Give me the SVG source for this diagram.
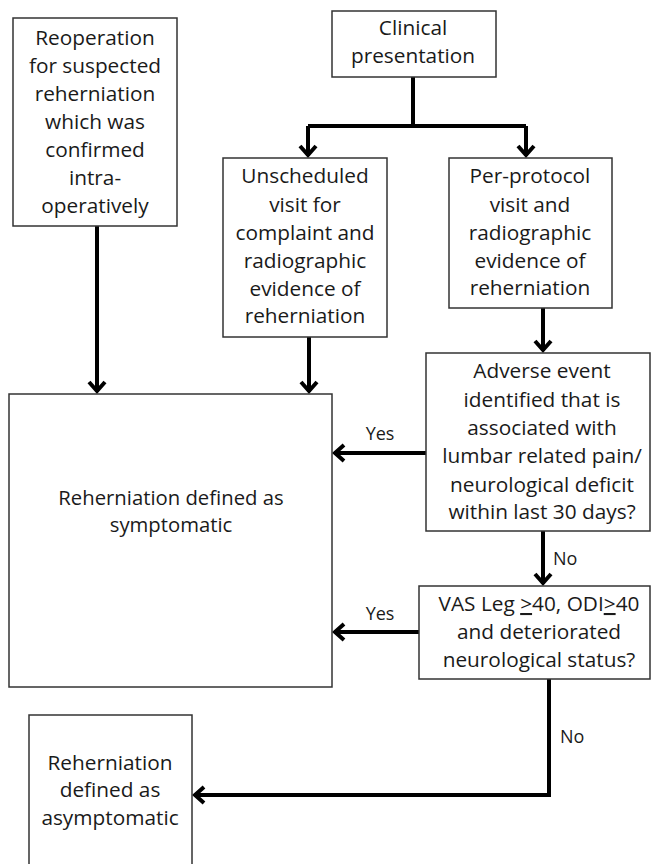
<svg xmlns="http://www.w3.org/2000/svg" width="651" height="864" viewBox="0 0 651 864">
<style>
.box{fill:#fff;stroke:#333;stroke-width:1.5}
.t{font-family:"Open Sans","Noto Sans","Liberation Sans",sans-serif;font-size:20.8px;fill:#1a1a1a;text-anchor:middle}
.lbl{font-family:"Open Sans","Noto Sans","Liberation Sans",sans-serif;font-size:18px;fill:#1a1a1a}
.c{fill:none;stroke:#000;stroke-width:4}
</style>
<defs>
<marker id="arr" markerUnits="userSpaceOnUse" viewBox="-14 -12 16 24" refX="0" refY="0" markerWidth="16" markerHeight="24" orient="auto" overflow="visible">
<path d="M-10,-8 L-1,0 L-10,8" fill="none" stroke="#000" stroke-width="4" stroke-linejoin="miter"/>
</marker>
</defs>
<rect width="651" height="864" fill="#fff"/>
<g id="connectors">
<path class="c" d="M413,77 V126"/>
<path class="c" d="M308,126 H526"/>
<path class="c" d="M308,126 V156" marker-end="url(#arr)"/>
<path class="c" d="M526,126 V156" marker-end="url(#arr)"/>
<path class="c" d="M97,226 V392" marker-end="url(#arr)"/>
<path class="c" d="M309,337 V392" marker-end="url(#arr)"/>
<path class="c" d="M543,308 V351" marker-end="url(#arr)"/>
<path class="c" d="M426,453 H334" marker-end="url(#arr)"/>
<path class="c" d="M543,531 V584" marker-end="url(#arr)"/>
<path class="c" d="M419,632 H334" marker-end="url(#arr)"/>
<path class="c" d="M549,679 V795 H194" marker-end="url(#arr)"/>
<text class="lbl" x="380" y="440" text-anchor="middle">Yes</text>
<text class="lbl" x="553" y="565">No</text>
<text class="lbl" x="380" y="620" text-anchor="middle">Yes</text>
<text class="lbl" x="560" y="743">No</text>
</g>
<g id="reoperation">
<rect class="box" x="13" y="18" width="164" height="208"/>
<text class="t" x="95" y="45">Reoperation</text>
<text class="t" x="95" y="73">for suspected</text>
<text class="t" x="95" y="101">reherniation</text>
<text class="t" x="95" y="129">which was</text>
<text class="t" x="95" y="157">confirmed</text>
<text class="t" x="95" y="185">intra-</text>
<text class="t" x="95" y="213">operatively</text>
</g>
<g id="clinical">
<rect class="box" x="332" y="11" width="164" height="66"/>
<text class="t" x="413" y="35">Clinical</text>
<text class="t" x="413" y="63">presentation</text>
</g>
<g id="unscheduled">
<rect class="box" x="223" y="158" width="164" height="179"/>
<text class="t" x="305" y="183">Unscheduled</text>
<text class="t" x="305" y="212">visit for</text>
<text class="t" x="305" y="240">complaint and</text>
<text class="t" x="305" y="268">radiographic</text>
<text class="t" x="305" y="296">evidence of</text>
<text class="t" x="305" y="323">reherniation</text>
</g>
<g id="perprotocol">
<rect class="box" x="449" y="158" width="163" height="150"/>
<text class="t" x="530" y="183">Per-protocol</text>
<text class="t" x="530" y="212">visit and</text>
<text class="t" x="530" y="240">radiographic</text>
<text class="t" x="530" y="268">evidence of</text>
<text class="t" x="530" y="295">reherniation</text>
</g>
<g id="adverse">
<rect class="box" x="426" y="353" width="224" height="178"/>
<text class="t" x="542" y="378">Adverse event</text>
<text class="t" x="542" y="407">identified that is</text>
<text class="t" x="542" y="435">associated with</text>
<text class="t" x="542" y="463">lumbar related pain/</text>
<text class="t" x="542" y="492">neurological deficit</text>
<text class="t" x="542" y="519">within last 30 days?</text>
</g>
<g id="symptomatic">
<rect class="box" x="9" y="394" width="323" height="293"/>
<text class="t" x="171" y="505" style="font-size:20.3px">Reherniation defined as</text>
<text class="t" x="171" y="532" style="font-size:20.3px">symptomatic</text>
</g>
<g id="vas">
<rect class="box" x="419" y="586" width="231" height="93"/>
<text class="t" x="539" y="611">VAS Leg <tspan text-decoration="underline">&gt;</tspan>40, ODI<tspan text-decoration="underline">&gt;</tspan>40</text>
<text class="t" x="539" y="639">and deteriorated</text>
<text class="t" x="539" y="667">neurological status?</text>
</g>
<g id="asymptomatic">
<rect class="box" x="29" y="715" width="163" height="160"/>
<text class="t" x="110" y="770">Reherniation</text>
<text class="t" x="110" y="797">defined as</text>
<text class="t" x="110" y="825">asymptomatic</text>
</g>
</svg>
